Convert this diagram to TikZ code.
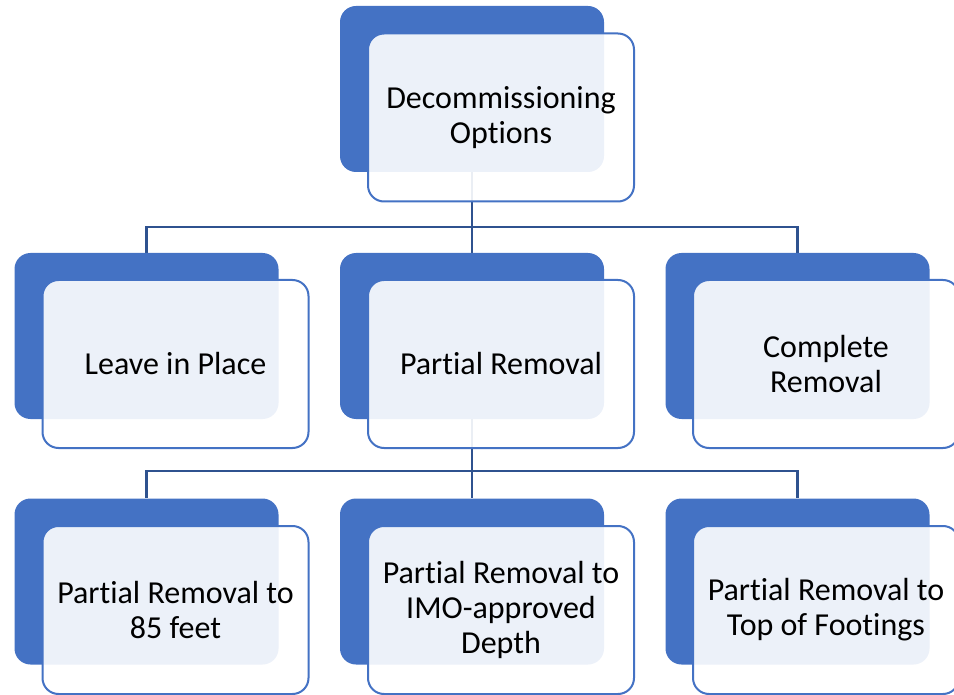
\documentclass[tikz,border=0pt]{standalone}
\usepackage{fontspec}
\setmainfont{Carlito}[Ligatures=NoCommon]
\usetikzlibrary{backgrounds}
\definecolor{accent}{HTML}{4472C4}
\definecolor{linkblue}{HTML}{2F528F}
\begin{document}
\begin{tikzpicture}[x=1pt,y=-1pt,
  backbox/.style={fill=accent, rounded corners=16pt, minimum width=264pt,
    minimum height=166pt, inner sep=0pt},
  frontbox/.style={draw=accent, line width=2pt, fill=white, fill opacity=0.9,
    text opacity=1, text=black, rounded corners=16pt, minimum width=266pt,
    minimum height=168pt, inner sep=0pt, align=center,
    font=\fontsize{32}{35}\selectfont},
  link/.style={draw=linkblue, line width=2.2pt}]
\useasboundingbox (0,0) rectangle (954,695);

% hubs of the two elbow connectors
\coordinate (hubA) at (472,227);
\coordinate (hubB) at (472,471);

% back plates
\node[backbox] (rootB)  at (472,89)    {};
\node[backbox] (leaveB) at (146.5,336) {};
\node[backbox] (partB)  at (472,336)   {};
\node[backbox] (compB)  at (797.5,336) {};
\node[backbox] (ftB)    at (146.5,581.5) {};
\node[backbox] (imoB)   at (472,581.5)   {};
\node[backbox] (topB)   at (797.5,581.5) {};

% connectors, kept beneath the plates
\begin{scope}[on background layer]
\draw[link] (rootB.center) -- (hubA) -| (leaveB.north);
\draw[link] (hubA) -| (compB.north);
\draw[link] (hubA) -- (partB.north);
\draw[link] (partB.center) -- (hubB) -| (ftB.north);
\draw[link] (hubB) -| (topB.north);
\draw[link] (hubB) -- (imoB.north);
\end{scope}

% front cards with the labels
\node[frontbox] (root)  at (501,117.5) {Decommissioning\\Options};
\node[frontbox] (leave) at (175.5,364) {Leave in Place};
\node[frontbox] (part)  at (501,364)   {Partial Removal};
\node[frontbox] (comp)  at (826,364)   {Complete\\Removal};
\node[frontbox] (ft)    at (175.5,610) {Partial Removal to\\85 feet};
\node[frontbox] (imo)   at (501,610)   {Partial Removal to\\IMO-approved\\Depth};
\node[frontbox] (top)   at (826,610)   {Partial Removal to\\Top of Footings};
\end{tikzpicture}
\end{document}
